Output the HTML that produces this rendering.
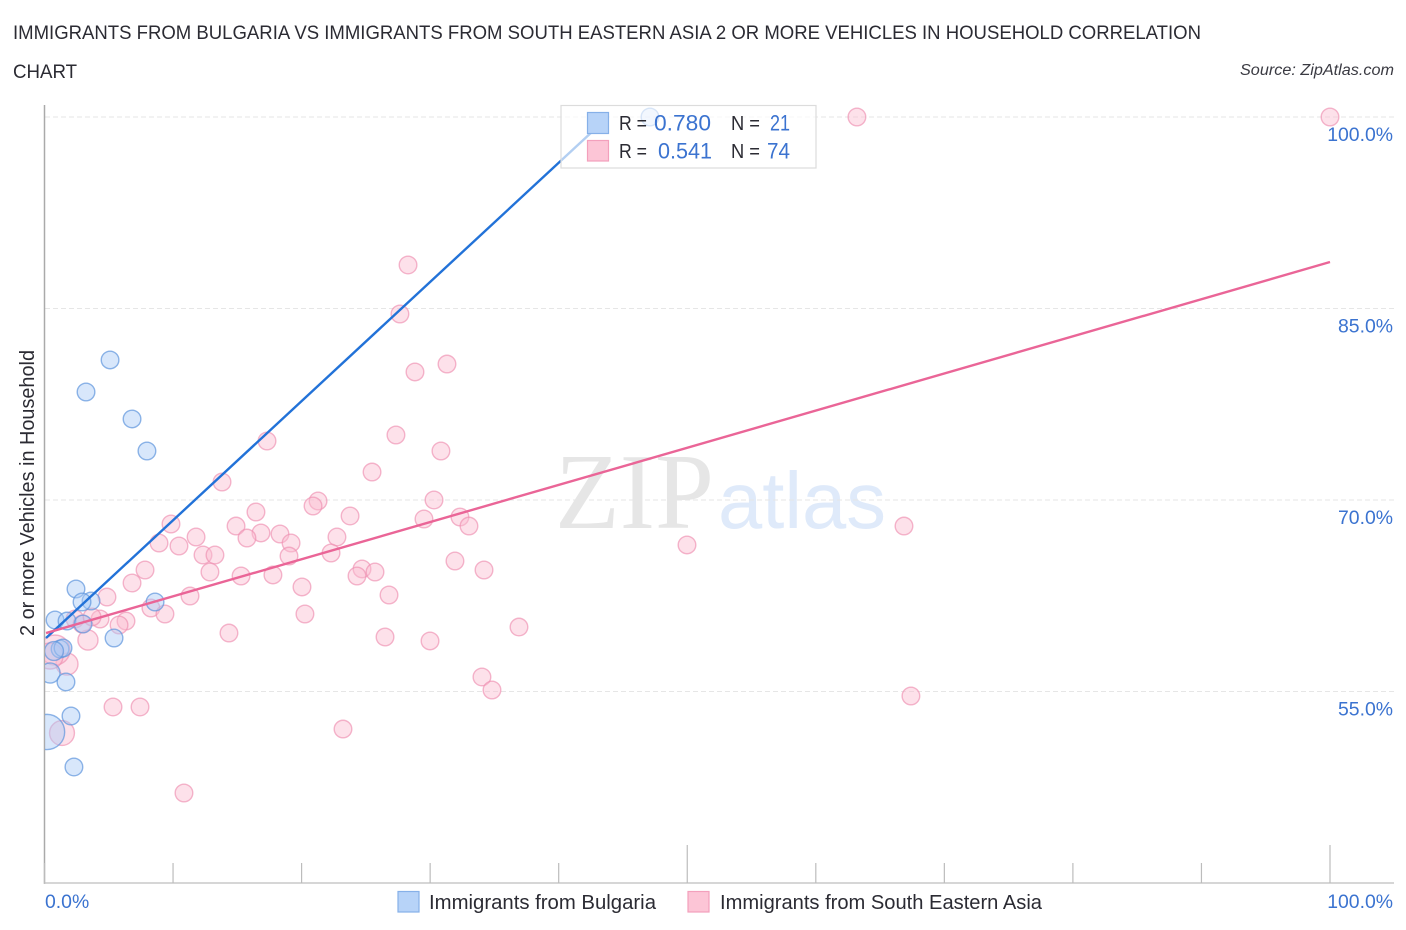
<!DOCTYPE html>
<html lang="en">
<head>
<meta charset="utf-8">
<title>Immigrants from Bulgaria vs Immigrants from South Eastern Asia correlation chart</title>
<style>
html,body{margin:0;padding:0;background:#fff;}
svg{display:block;font-family:"Liberation Sans",sans-serif;}
</style>
</head>
<body>
<svg id="chart" xmlns="http://www.w3.org/2000/svg" width="1406" height="930" viewBox="0 0 1406 930">
  <defs>
    <clipPath id="plot-clip"><rect x="45" y="95" width="1361" height="788"/></clipPath>
  </defs>
  <rect width="1406" height="930" fill="#fff"/>
  <text x="13" y="39" font-size="19.5" fill="#2b2b33" textLength="1188" lengthAdjust="spacingAndGlyphs">IMMIGRANTS FROM BULGARIA VS IMMIGRANTS FROM SOUTH EASTERN ASIA 2 OR MORE VEHICLES IN HOUSEHOLD CORRELATION</text>
  <text x="13" y="78" font-size="19.5" fill="#2b2b33" textLength="64" lengthAdjust="spacingAndGlyphs">CHART</text>
  <text x="1394" y="75" font-size="15.5" font-style="italic" fill="#3a3a42" text-anchor="end" textLength="154" lengthAdjust="spacingAndGlyphs">Source: ZipAtlas.com</text>

  <g>
    <text x="555" y="528" font-family="'Liberation Serif',serif" font-size="108" fill="#e6e6e6" textLength="159" lengthAdjust="spacingAndGlyphs">ZIP</text>
    <text x="718" y="528" font-size="80" fill="#dfeafa" textLength="168" lengthAdjust="spacingAndGlyphs">atlas</text>
  </g>

  <g id="grid"></g>
  <g id="axes"></g>
  <g id="marks" clip-path="url(#plot-clip)"></g>

  <g>
    <rect x="561" y="105.5" width="255" height="62.5" fill="#fff" fill-opacity="0.66" stroke="#dcdcdc" stroke-width="1.2"/>
    <rect x="587.5" y="112.5" width="21" height="21" fill="#b7d3f8" stroke="#86b0e8" stroke-width="1.2"/>
    <rect x="587.5" y="140.5" width="21" height="20.5" fill="#fcc5d6" stroke="#f3a0bc" stroke-width="1.2"/>
    <text x="619" y="130" font-size="20" fill="#2b2b33" textLength="28" lengthAdjust="spacingAndGlyphs">R =</text>
    <text x="654" y="130.5" font-size="22" fill="#3b73d0" textLength="57" lengthAdjust="spacingAndGlyphs">0.780</text>
    <text x="731" y="130" font-size="20" fill="#2b2b33" textLength="29" lengthAdjust="spacingAndGlyphs">N =</text>
    <text x="770" y="130.5" font-size="22" fill="#3b73d0" textLength="20" lengthAdjust="spacingAndGlyphs">21</text>
    <text x="619" y="158" font-size="20" fill="#2b2b33" textLength="28" lengthAdjust="spacingAndGlyphs">R =</text>
    <text x="658" y="158.5" font-size="22" fill="#3b73d0" textLength="54" lengthAdjust="spacingAndGlyphs">0.541</text>
    <text x="731" y="158" font-size="20" fill="#2b2b33" textLength="29" lengthAdjust="spacingAndGlyphs">N =</text>
    <text x="767" y="158.5" font-size="22" fill="#3b73d0" textLength="23" lengthAdjust="spacingAndGlyphs">74</text>
  </g>

  <text transform="translate(34,493) rotate(-90)" text-anchor="middle" font-size="20" fill="#2b2b33" textLength="286" lengthAdjust="spacingAndGlyphs">2 or more Vehicles in Household</text>

  <g>
    <rect x="398" y="891.5" width="21" height="20.5" fill="#b7d3f8" stroke="#86b0e8" stroke-width="1.2"/>
    <text x="429" y="909" font-size="20" fill="#2b2b33" textLength="227" lengthAdjust="spacingAndGlyphs">Immigrants from Bulgaria</text>
    <rect x="688" y="891.5" width="21" height="20.5" fill="#fcc5d6" stroke="#f3a0bc" stroke-width="1.2"/>
    <text x="720" y="909" font-size="20" fill="#2b2b33" textLength="322" lengthAdjust="spacingAndGlyphs">Immigrants from South Eastern Asia</text>
  </g>
</svg>

<script>
var yTicks = [100, 85, 70, 55];
var yTickLabels = ["100.0%", "85.0%", "70.0%", "55.0%"];
var xTicks = [0, 10, 20, 30, 40, 50, 60, 70, 80, 90, 100];
var xMajorTicks = [50, 100];
var xEndLabels = ["0.0%", "100.0%"];

var bulgariaX = [47.1, 5.1, 3.23, 6.81, 7.97, 2.45, 3.62, 2.92, 8.6, 0.82, 1.75, 3.0, 5.41, 1.21, 1.44, 0.74, 0.43, 1.67, 2.06, 0.2, 2.29];
var bulgariaY = [100, 80.97, 78.46, 76.35, 73.84, 63.03, 62.09, 62.01, 62.01, 60.6, 60.52, 60.29, 59.19, 58.33, 58.41, 58.17, 56.45, 55.75, 53.08, 51.83, 49.09];
var bulgariaWeight = [1, 1, 1, 1, 1, 1, 1, 1, 1, 1, 1, 1, 1, 1, 1, 1.15, 1.3, 1, 1, 4, 1];

var seAsiaX = [63.2, 100, 28.28, 27.65, 28.82, 31.31, 27.34, 17.31, 30.84, 25.48, 13.81, 21.28, 20.89, 30.3, 16.45, 23.77, 32.32, 29.52, 33.02, 9.84, 66.86, 14.9, 16.84, 15.75, 18.32, 11.79, 8.91, 10.46, 19.18, 22.75, 49.98, 12.33, 13.26, 19.02, 22.29, 7.82, 12.87, 31.93, 34.19, 24.7, 24.31, 25.71, 15.29, 17.77, 6.81, 20.03, 26.8, 4.86, 11.32, 8.28, 9.37, 20.26, 6.34, 5.8, 4.32, 36.91, 14.35, 26.49, 29.99, 3.38, 34.03, 34.81, 67.4, 5.33, 7.43, 23.22, 1.36, 10.85, 1.75, 0.82, 0.43, 2.37, 2.92, 3.7];
var seAsiaY = [100, 100, 88.41, 84.57, 80.03, 80.65, 75.09, 74.62, 73.84, 72.19, 71.41, 69.92, 69.53, 70, 69.06, 68.75, 68.67, 68.51, 67.96, 68.12, 67.96, 67.96, 67.42, 67.02, 67.34, 67.1, 66.63, 66.4, 66.63, 67.1, 66.48, 65.69, 65.69, 65.61, 65.85, 64.52, 64.36, 65.22, 64.52, 64.6, 64.05, 64.36, 64.05, 64.13, 63.5, 63.19, 62.56, 62.4, 62.48, 61.54, 61.07, 61.07, 60.52, 60.21, 60.68, 60.05, 59.58, 59.27, 58.96, 59.03, 56.14, 55.12, 54.65, 53.79, 53.79, 52.06, 51.75, 47.05, 57.15, 58.25, 57.78, 60.68, 60.29, 60.84];
var seAsiaWeight = [1, 1, 1, 1, 1, 1, 1, 1, 1, 1, 1, 1, 1, 1, 1, 1, 1, 1, 1, 1, 1, 1, 1, 1, 1, 1, 1, 1, 1, 1, 1, 1, 1, 1, 1, 1, 1, 1, 1, 1, 1, 1, 1, 1, 1, 1, 1, 1, 1, 1, 1, 1, 1, 1, 1, 1, 1, 1, 1, 1.3, 1, 1, 1, 1, 1, 1, 2, 1, 1.56, 2.9, 2.2, 1, 1, 1];

var bulgariaTrendX = [0.12, 43.84];
var bulgariaTrendY = [59.19, 100];
var seAsiaTrendX = [0.12, 100];
var seAsiaTrendY = [59.58, 88.64];

var NS = "http://www.w3.org/2000/svg";
function xScale(v) { return 44.5 + v * 12.855; }
function yScale(v) { return 117 + (100 - v) * 12.767; }
function rScale(w) { return 8.8 * Math.sqrt(w); }
function make(tag, parent, attrs) {
  var el = document.createElementNS(NS, tag);
  for (var k in attrs) { el.setAttribute(k, attrs[k]); }
  parent.appendChild(el);
  return el;
}

var gridGroup = document.getElementById("grid");
var axesGroup = document.getElementById("axes");
var marksGroup = document.getElementById("marks");

yTicks.forEach(function (t, i) {
  var y = yScale(t);
  var line = make("line", gridGroup, { x1: 45, x2: 1395, y1: y, y2: y, stroke: "#e6e6e6", "stroke-width": 1, "stroke-dasharray": "5 3" });
  
  
  var label = make("text", axesGroup, { x: 1393, y: y + 24, "text-anchor": "end", "font-size": 19.4, fill: "#3b73d0" });
  label.textContent = yTickLabels[i];
  
  
});

var leftAxis = make("line", axesGroup, { x1: 44.5, x2: 44.5, y1: 105, y2: 884, stroke: "#aaaaaa", "stroke-width": 1.5 });


var bottomAxis = make("line", axesGroup, { x1: 44, x2: 1394, y1: 883, y2: 883, stroke: "#c8c8c8", "stroke-width": 1.5 });



xTicks.forEach(function (t) {
  var x = xScale(t);
  var isMajor = xMajorTicks.indexOf(t) >= 0;
  var tick = make("line", axesGroup, { x1: x, x2: x, y1: isMajor ? 845 : 863, y2: 883, stroke: "#bcbcbc", "stroke-width": 1.2 });
  
  
});

var xLabelLeft = make("text", axesGroup, { x: 45, y: 908, "font-size": 19.4, fill: "#3b73d0" });
xLabelLeft.textContent = xEndLabels[0];


var xLabelRight = make("text", axesGroup, { x: 1393, y: 908, "text-anchor": "end", "font-size": 19.4, fill: "#3b73d0" });
xLabelRight.textContent = xEndLabels[1];



seAsiaX.forEach(function (v, i) {
  var c = make("circle", marksGroup, { cx: xScale(v), cy: yScale(seAsiaY[i]), r: rScale(seAsiaWeight[i]), fill: "#fbbcd1", "fill-opacity": 0.45, stroke: "#ee8fb0", "stroke-opacity": 0.65, "stroke-width": 1.4 });
  
  
});
bulgariaX.forEach(function (v, i) {
  var c = make("circle", marksGroup, { cx: xScale(v), cy: yScale(bulgariaY[i]), r: rScale(bulgariaWeight[i]), fill: "#a9caf6", "fill-opacity": 0.45, stroke: "#5f96dd", "stroke-opacity": 0.7, "stroke-width": 1.4 });
  
  
});

var blueTrend = make("line", marksGroup, { x1: xScale(bulgariaTrendX[0]), y1: yScale(bulgariaTrendY[0]), x2: xScale(bulgariaTrendX[1]), y2: yScale(bulgariaTrendY[1]), stroke: "#2272d8", "stroke-width": 2.4 });


var pinkTrend = make("line", marksGroup, { x1: xScale(seAsiaTrendX[0]), y1: yScale(seAsiaTrendY[0]), x2: xScale(seAsiaTrendX[1]), y2: yScale(seAsiaTrendY[1]), stroke: "#ea6597", "stroke-width": 2.4 });


</script>
</body>
</html>
